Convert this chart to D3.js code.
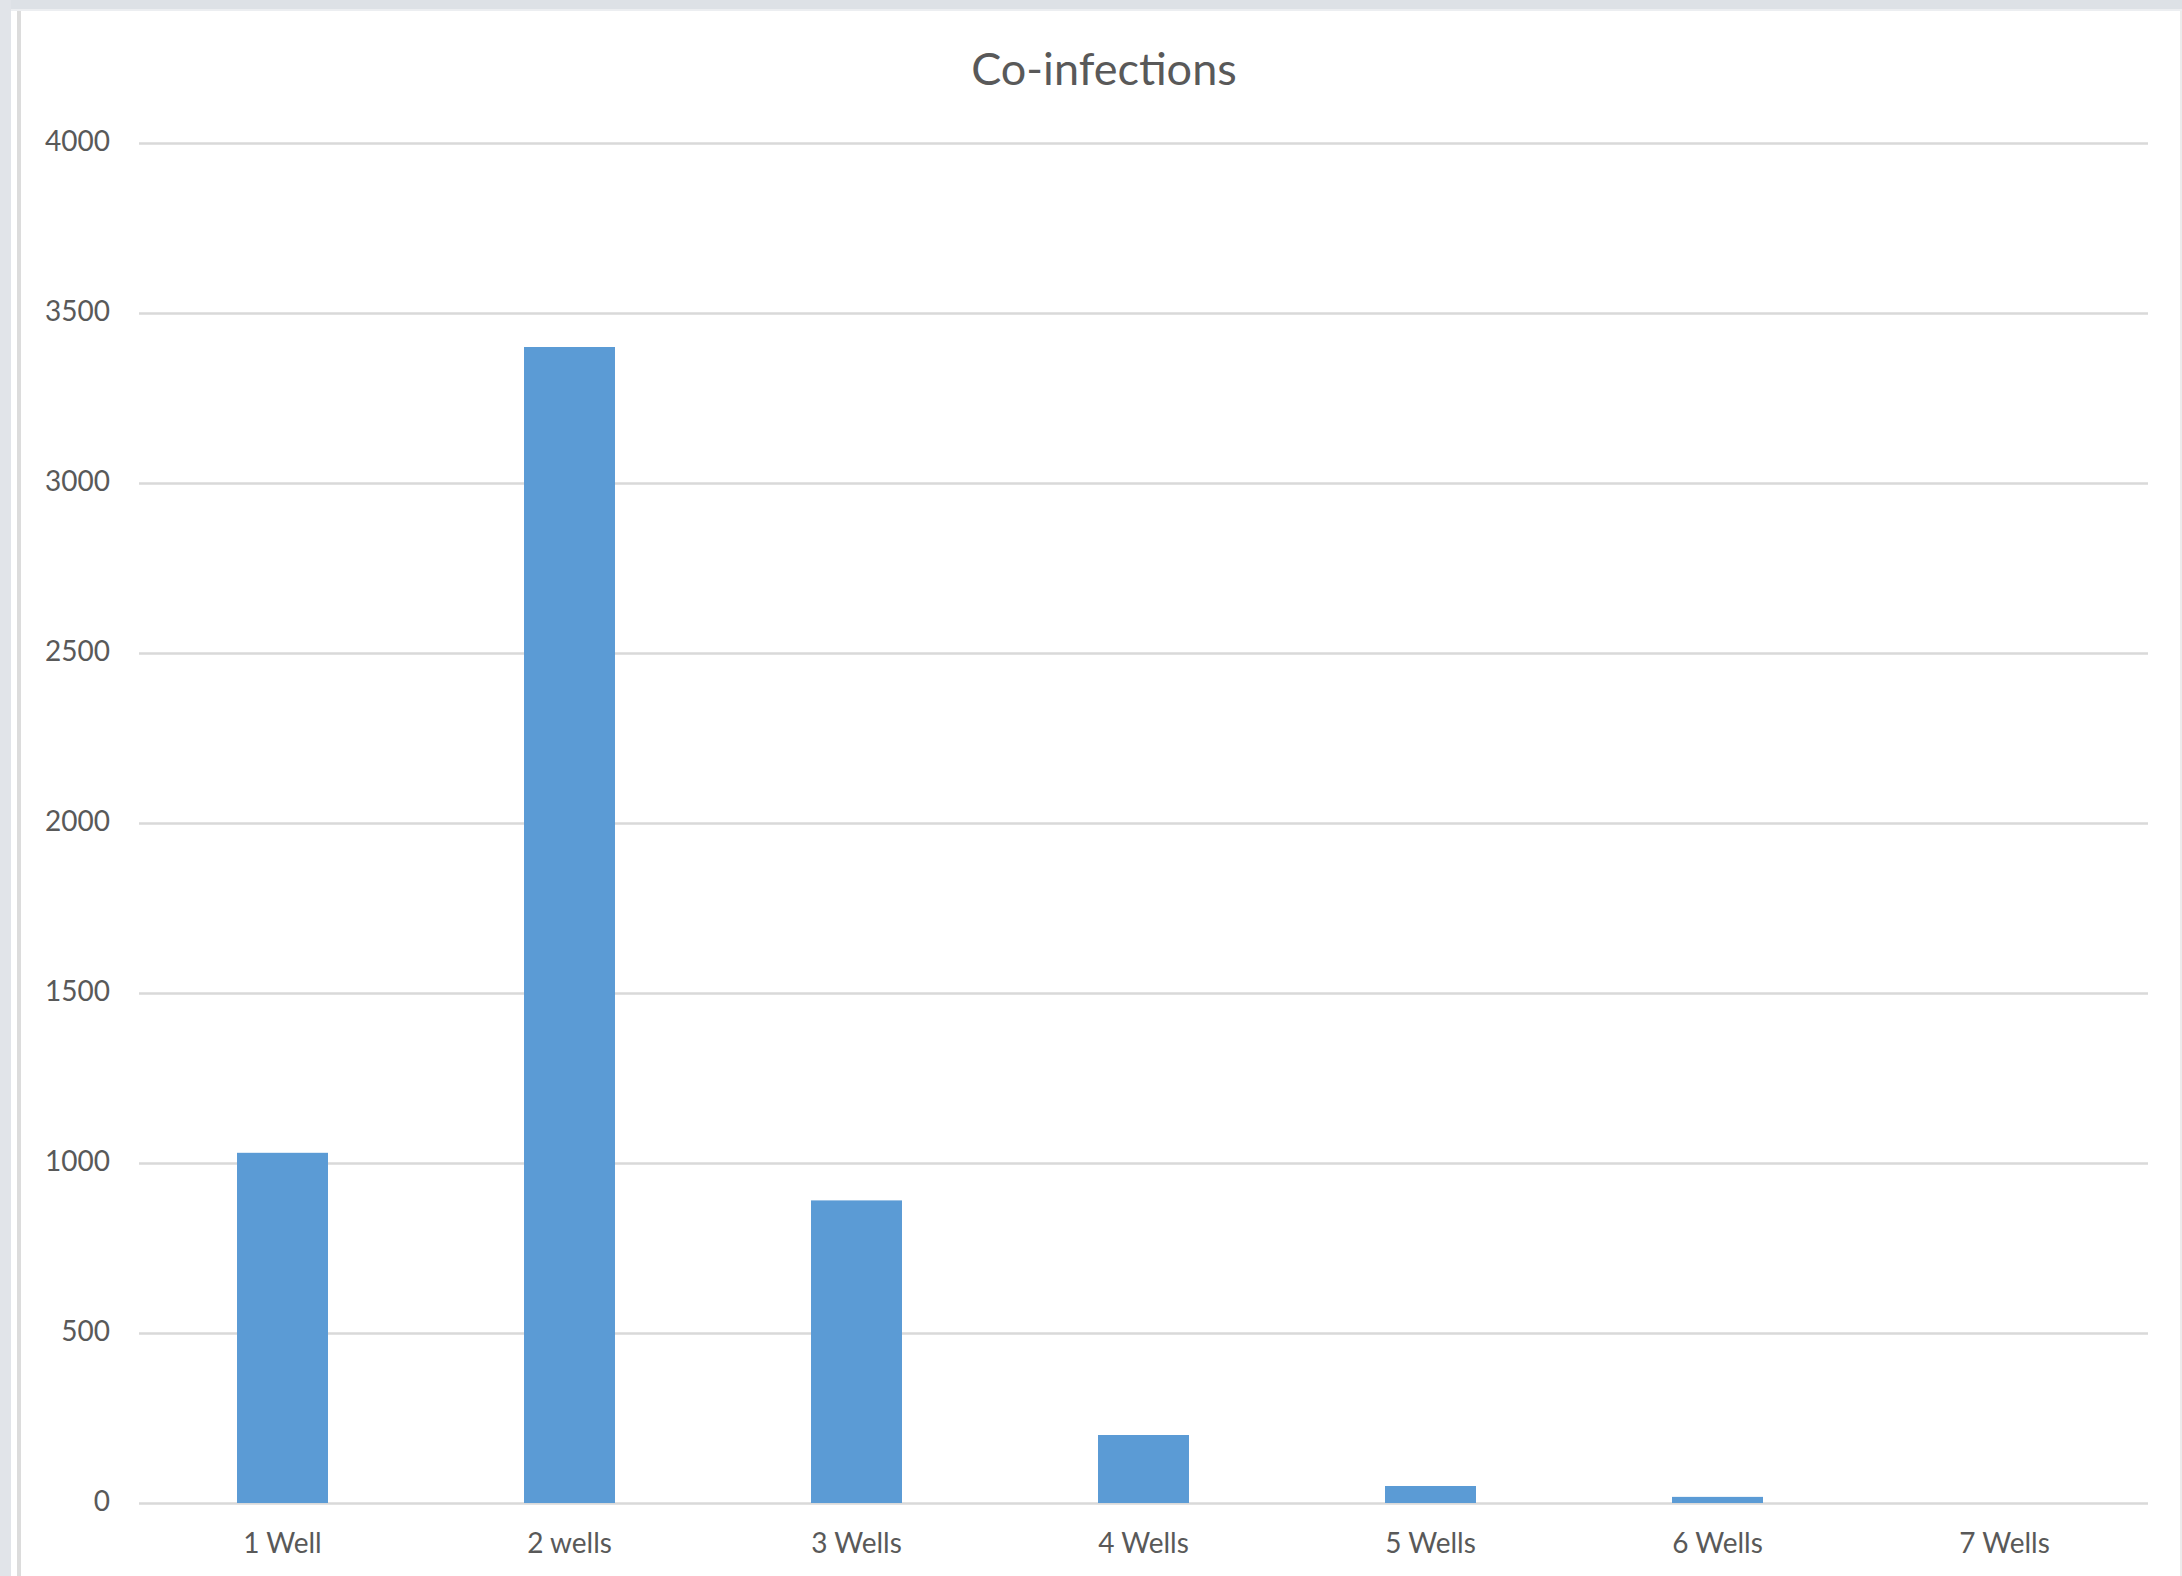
<!DOCTYPE html>
<html>
<head>
<meta charset="utf-8">
<script src="https://cdn.jsdelivr.net/npm/d3@7"></script>
<style>
  html, body { margin: 0; padding: 0; background: #fff; }
  svg { display: block; }
  text { font-family: Lato, "Open Sans", sans-serif; fill: #595959; }
</style>
</head>
<body>
<svg id="chart" width="2182" height="1576"></svg>
<script>
const categories = ["1 Well", "2 wells", "3 Wells", "4 Wells", "5 Wells", "6 Wells", "7 Wells"];
const values = [1030, 3400, 890, 200, 50, 18, 0];
const yTicks = [0, 500, 1000, 1500, 2000, 2500, 3000, 3500, 4000];
const title = "Co-infections";

const width = 2182, height = 1576;
const margin = { top: 143, right: 34, bottom: 73, left: 139 };
const innerW = width - margin.left - margin.right;
const innerH = height - margin.top - margin.bottom;

const svg = d3.select("#chart");

// window frame bits around the chart
svg.append("rect").attr("x", 0).attr("y", 0).attr("width", width).attr("height", 9).attr("fill", "#dde1e6");
svg.append("rect").attr("x", 0).attr("y", 9).attr("width", width).attr("height", 2).attr("fill", "#eceef1");
svg.append("rect").attr("x", 0).attr("y", 0).attr("width", 11).attr("height", height).attr("fill", "#e1e4e9");
svg.append("rect").attr("x", 17).attr("y", 11).attr("width", 4).attr("height", height).attr("fill", "#dcdcdc");
svg.append("rect").attr("x", width - 2).attr("y", 11).attr("width", 2).attr("height", height).attr("fill", "#ececec");

const g = svg.append("g")
  .attr("transform", `translate(${margin.left}, ${margin.top})`);

const x = d3.scaleBand()
  .domain(categories)
  .range([0, innerW])
  .paddingInner(0.683)
  .paddingOuter(0.3415);

const y = d3.scaleLinear()
  .domain([0, 4000])
  .range([innerH, 0]);

// gridlines + y labels
const yAxis = g.append("g")
  .call(d3.axisLeft(y).tickValues(yTicks).tickSize(-innerW).tickPadding(29).tickFormat(d3.format("d")));
yAxis.select(".domain").remove();
yAxis.selectAll(".tick line").attr("stroke", "#d9d9d9").attr("stroke-width", 2.5);
yAxis.selectAll(".tick text")
  .attr("font-size", 28)
  .attr("dy", "0.26em")
  .style("fill", "#595959")
  .style("font-family", "Lato, 'Open Sans', sans-serif");

// bars
g.selectAll(".bar")
  .data(values)
  .enter()
  .append("rect")
  .attr("class", "bar")
  .attr("x", (d, i) => x(categories[i]))
  .attr("y", d => y(d))
  .attr("width", x.bandwidth())
  .attr("height", d => innerH - y(d))
  .attr("fill", "#5b9bd5");

// x axis labels
const xAxis = g.append("g")
  .attr("transform", `translate(0, ${innerH})`)
  .call(d3.axisBottom(x).tickSize(0).tickPadding(30));
xAxis.select(".domain").remove();
xAxis.selectAll(".tick text")
  .attr("font-size", 28)
  .style("fill", "#595959")
  .style("font-family", "Lato, 'Open Sans', sans-serif");

// title
svg.append("text")
  .attr("x", 1104)
  .attr("y", 85)
  .attr("text-anchor", "middle")
  .attr("font-size", 45)
  .text(title);
</script>
</body>
</html>
